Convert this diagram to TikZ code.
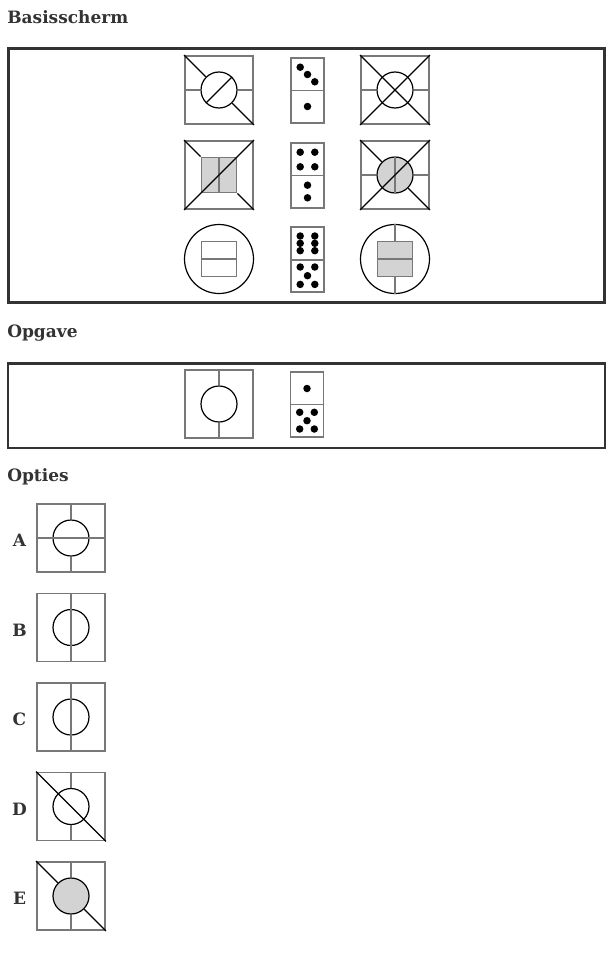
\documentclass[tikz,border=0pt]{standalone}
\usepackage{fontspec}
\setmainfont{DejaVu Serif}
\usepackage{xcolor}
\usepackage{tikz}
\definecolor{ink}{HTML}{333333}
\definecolor{linegray}{HTML}{787878}
\definecolor{shade}{HTML}{D3D3D3}

\begin{document}
\begin{tikzpicture}[x=1pt, y=-1pt, semithick]
 	  \tikzstyle{cell}=[draw=linegray, line width=1.9pt, rectangle, minimum size=68pt, inner sep=0pt]
 	  \tikzstyle{ring}=[draw, circle, line width=1.2pt, minimum size=36pt, inner sep=0pt]
 	  \tikzstyle{bigring}=[ring, minimum size=69pt]
 	  \tikzstyle{inbox}=[draw=linegray, line width=1.9pt, rectangle, minimum size=35pt, inner sep=0pt]
 	  \tikzstyle{tile}=[draw=linegray, line width=1.9pt, rectangle, minimum width=33pt, minimum height=65pt, inner sep=0pt]
 	  \tikzstyle{pip}=[circle, fill, inner sep=0pt, minimum size=7.5pt]
 	  \tikzstyle{heading}=[anchor=base west, inner sep=0pt, text=ink, font=\fontsize{17}{20}\selectfont\bfseries]
 	  \tikzstyle{gl}=[draw=linegray, line width=1.9pt]
 	  \tikzstyle{bl}=[draw=black, line width=1.2pt]
\useasboundingbox (0,0) rectangle (613,955);
\draw[ink, line width=3pt] (8.5,48.5) rectangle (604.5,302.5);
\draw[ink, line width=2.2pt] (8.2,363.5) rectangle (604.8,448.3);
    \node[heading] (hbasis) at (7,23.3) {Basisscherm};
    \node[heading] (hopgave) at (7,337.7) {Opgave};
    \node[heading] (hopties) at (7,481.7) {Opties};
% first row
    \node[cell] (s1) at (219,90) {};
    \node[ring] (c1) at (219,90) {};
         \draw[gl] (s1.west) -- (c1.west) (c1.east) -- (s1.east);
         \draw[bl] (s1.north west) -- (c1.north west) (c1.south east) -- (s1.south east) (c1.south west) -- (c1.north east);
    \node[tile] (t1) at (307.5,90.5) {};
         \draw[gl] (t1.west) -- (t1.east);
\foreach \dx/\dy [count=\k] in {-7.3/-23.3, 0/-16, 7.3/-8.7, 0/16}{
    \node[pip] (t1p\k) at ([shift={(\dx,\dy)}]t1) {};
      }
    \node[cell] (s3) at (395,90) {};
    \node[ring] (c3) at (395,90) {};
         \draw[gl] (s3.west) -- (c3.west) (c3.east) -- (s3.east);
         \draw[bl] (s3.north west) -- (s3.south east) (s3.south west) -- (s3.north east);
% second row
    \node[cell] (s4) at (219,175) {};
    \node[inbox, fill=shade] (b4) at (219,175) {};
         \draw[gl] (b4.north) -- (b4.south);
         \draw[bl] (s4.north west) -- (b4.north west) (b4.south east) -- (s4.south east) (s4.south west) -- (s4.north east);
    \node[tile] (t2) at (307.5,175.5) {};
         \draw[gl] (t2.west) -- (t2.east);
\foreach \dx/\dy [count=\k] in {-7.3/-23.3, 7.3/-23.3, -7.3/-8.7, 7.3/-8.7, 0/9.7, 0/22.3}{
    \node[pip] (t2p\k) at ([shift={(\dx,\dy)}]t2) {};
      }
    \node[cell] (s6) at (395,175) {};
    \node[ring, fill=shade] (c6) at (395,175) {};
         \draw[gl] (s6.west) -- (c6.west) (c6.east) -- (s6.east) (c6.north) -- (c6.south);
         \draw[bl] (s6.north west) -- (c6.north west) (c6.south east) -- (s6.south east) (s6.south west) -- (s6.north east);
% third row
    \node[bigring] (c7) at (219,259) {};
    \node[inbox] (b7) at (219,259) {};
         \draw[gl] (b7.west) -- (b7.east);
    \node[tile] (t3) at (307.5,259.7) {};
         \draw[gl] (t3.west) -- (t3.east);
\foreach \dx/\dy [count=\k] in {-7.3/-23.7, 7.3/-23.7, -7.3/-16.4, 7.3/-16.4, -7.3/-9, 7.3/-9,
                                -7.3/7.3, 7.3/7.3, 0/16, -7.3/24.7, 7.3/24.7}{
    \node[pip] (t3p\k) at ([shift={(\dx,\dy)}]t3) {};
      }
    \node[bigring] (c9) at (395,259) {};
    \node[inbox, fill=shade] (b9) at (395,259) {};
         \draw[gl] (b9.west) -- (b9.east) (c9.north) -- (b9.north) (b9.south) -- (c9.south);
% opgave
    \node[cell] (sq) at (219,404) {};
    \node[ring] (cq) at (219,404) {};
         \draw[gl] (sq.north) -- (cq.north) (cq.south) -- (sq.south);
    \node[tile] (tq) at (307,404.5) {};
         \draw[gl] (tq.west) -- (tq.east);
\foreach \dx/\dy [count=\k] in {0/-16, -7.3/7.8, 7.3/7.8, 0/16.2, -7.3/24.5, 7.3/24.5}{
    \node[pip] (tqp\k) at ([shift={(\dx,\dy)}]tq) {};
      }
% opties
\foreach \o/\y in {A/538, B/627.5, C/717, D/806.5, E/896}{
    \node[cell] (o\o) at (71,\y) {};
    \node[heading, anchor=base] (l\o) at (19.5,\y+8.7) {\o};
      }
    \node[ring] (rA) at (oA) {};
         \draw[gl] (oA.west) -- (oA.east) (oA.north) -- (rA.north) (rA.south) -- (oA.south);
    \node[ring] (rB) at (oB) {};
         \draw[gl] (oB.north) -- (oB.south);
    \node[ring] (rC) at (oC) {};
         \draw[gl] (oC.north) -- (oC.south);
    \node[ring] (rD) at (oD) {};
         \draw[gl] (oD.north) -- (rD.north) (rD.south) -- (oD.south);
         \draw[bl] (oD.north west) -- (oD.south east);
    \node[ring, fill=shade] (rE) at (oE) {};
         \draw[gl] (oE.north) -- (rE.north) (rE.south) -- (oE.south);
         \draw[bl] (oE.north west) -- (rE.north west) (rE.south east) -- (oE.south east);
   \end{tikzpicture}
\end{document}
